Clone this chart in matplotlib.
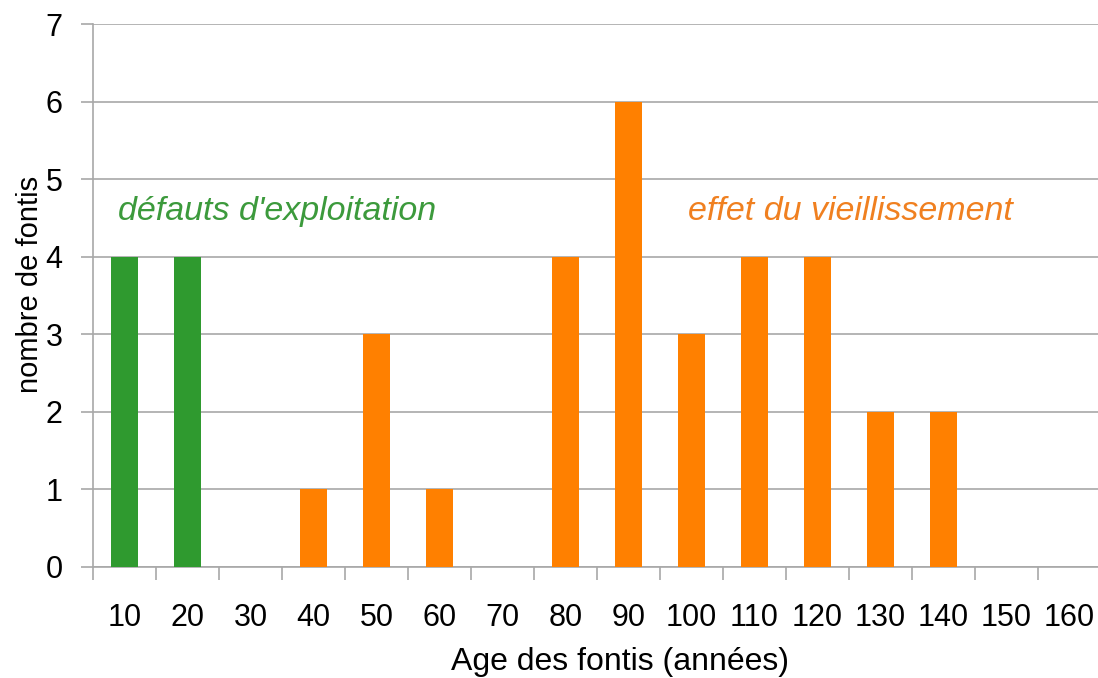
import matplotlib.pyplot as plt
import numpy as np

plt.rcParams['font.family'] = ['Liberation Sans', 'DejaVu Sans']

# data
ages = [10, 20, 30, 40, 50, 60, 70, 80, 90, 100, 110, 120, 130, 140, 150, 160]
counts = [4, 4, 0, 1, 3, 1, 0, 4, 6, 3, 4, 4, 2, 2, 0, 0]
groups = ["exploitation", "exploitation"] + ["vieillissement"] * 14

green = "#2f9a2f"
orange = "#ff8000"
colors = [green if g == "exploitation" else orange for g in groups]

fig = plt.figure(figsize=(10.98, 6.78), dpi=100)
# axes box in pixels: left 93, right 1101 (cut by the image edge), top 24, bottom 567
ax = fig.add_axes([93 / 1098, 1 - 567 / 678, 1008 / 1098, 543 / 678])

x = np.arange(len(ages))
ax.bar(x, counts, width=0.44, color=colors, zorder=3)

ax.set_xlim(-0.5, len(ages) - 0.5)
ax.set_ylim(0, 7)
ax.set_yticks(range(0, 8))
ax.yaxis.grid(True, color="#a8a8a8", linewidth=1.2, zorder=0)

# category labels centred, tick marks on the boundaries
ax.set_xticks(x)
ax.set_xticklabels([str(a) for a in ages])
ax.set_xticks(np.arange(-0.5, len(ages), 1), minor=True)
ax.tick_params(axis="x", which="major", length=0, pad=26, labelsize=22)
ax.tick_params(axis="x", which="minor", length=9, color="#a8a8a8", width=1.2)
ax.tick_params(axis="y", length=9, color="#a8a8a8", width=1.2, pad=13, labelsize=22)

for side in ["top", "right"]:
    ax.spines[side].set_visible(False)
ax.spines["left"].set_color("#a8a8a8")
ax.spines["bottom"].set_color("#a8a8a8")
ax.spines["left"].set_linewidth(1.2)
ax.spines["bottom"].set_linewidth(1.2)

ax.set_xlabel("Age des fontis (années)", fontsize=23)
ax.xaxis.set_label_coords(0.523, -0.148)
ax.set_ylabel("nombre de fontis", fontsize=21)
ax.yaxis.set_label_coords(-0.049, 0.52)

ax.text(2.42, 4.58, "défauts d'exploitation", color="#3c9a3c", fontsize=24.5,
        style="italic", ha="center", va="center")
ax.text(11.52, 4.58, "effet du vieillissement", color="#f08020", fontsize=24.5,
        style="italic", ha="center", va="center")

fig.savefig("out.png", dpi=100)
